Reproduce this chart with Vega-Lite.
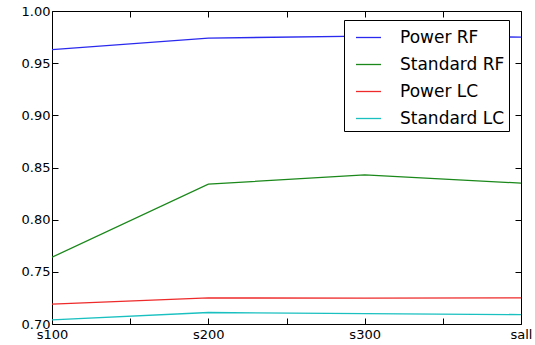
{
  "$schema": "https://vega.github.io/schema/vega-lite/v6.json",
  "width": 469,
  "height": 313,
  "autosize": {"type": "none"},
  "padding": {"left": 52, "top": 11, "right": 14, "bottom": 21},
  "background": "white",
  "config": {
    "font": "DejaVu Sans",
    "view": {"stroke": "black", "strokeWidth": 1},
    "axis": {"grid": false, "domain": false, "tickColor": "black", "labelColor": "black", "labelFont": "DejaVu Sans", "labelFontSize": 13, "title": null}
  },
  "data": {
    "values": [
      {"pos": 0, "series": "Power RF", "score": 0.963},
      {"pos": 1, "series": "Power RF", "score": 0.974},
      {"pos": 2, "series": "Power RF", "score": 0.976},
      {"pos": 3, "series": "Power RF", "score": 0.975},
      {"pos": 0, "series": "Standard RF", "score": 0.764},
      {"pos": 1, "series": "Standard RF", "score": 0.834},
      {"pos": 2, "series": "Standard RF", "score": 0.843},
      {"pos": 3, "series": "Standard RF", "score": 0.835},
      {"pos": 0, "series": "Power LC", "score": 0.719},
      {"pos": 1, "series": "Power LC", "score": 0.725},
      {"pos": 2, "series": "Power LC", "score": 0.7248},
      {"pos": 3, "series": "Power LC", "score": 0.725},
      {"pos": 0, "series": "Standard LC", "score": 0.704},
      {"pos": 1, "series": "Standard LC", "score": 0.711},
      {"pos": 2, "series": "Standard LC", "score": 0.710},
      {"pos": 3, "series": "Standard LC", "score": 0.709}
    ]
  },
  "layer": [
    {
      "mark": {"type": "line", "strokeWidth": 1.3, "clip": true},
      "encoding": {
        "x": {"field": "pos", "type": "quantitative", "scale": {"domain": [0, 3], "nice": false},
          "axis": {"orient": "bottom", "values": [0, 0.5, 1, 1.5, 2, 2.5, 3], "tickSize": -6, "labelPadding": 10, "labelFlush": false, "labelOverlap": false,
            "labelExpr": "datum.value == 0 ? 's100' : datum.value == 1 ? 's200' : datum.value == 2 ? 's300' : datum.value == 3 ? 'sall' : ''"}},
        "y": {"field": "score", "type": "quantitative", "scale": {"domain": [0.7, 1.0], "nice": false, "zero": false},
          "axis": {"orient": "left", "values": [0.7, 0.75, 0.8, 0.85, 0.9, 0.95, 1.0], "format": ".2f", "tickSize": -6, "labelPadding": 8, "labelFlush": false, "labelOverlap": false}},
        "color": {"field": "series", "type": "nominal",
          "scale": {"domain": ["Power RF", "Standard RF", "Power LC", "Standard LC"], "range": ["#2a2aee", "#1a881a", "#ee2a2a", "#1ac0c0"]},
          "legend": {"title": null, "orient": "none", "legendX": 292, "legendY": 9,
            "symbolType": "stroke", "symbolSize": 625, "symbolStrokeWidth": 1.3, "symbolOffset": 7,
            "labelFontSize": 17, "labelFont": "DejaVu Sans", "labelColor": "black", "labelOffset": 18,
            "labelExpr": "datum.label + '  '",
            "rowPadding": 5, "padding": 4, "strokeColor": "black", "fillColor": "white", "cornerRadius": 0}}
      }
    },
    {
      "mark": {"type": "point", "opacity": 0},
      "encoding": {
        "x": {"field": "pos", "type": "quantitative", "scale": {"domain": [0, 3], "nice": false},
          "axis": {"orient": "top", "values": [0, 0.5, 1, 1.5, 2, 2.5, 3], "tickSize": -6, "labels": false}},
        "y": {"field": "score", "type": "quantitative", "scale": {"domain": [0.7, 1.0], "nice": false, "zero": false},
          "axis": {"orient": "right", "values": [0.7, 0.75, 0.8, 0.85, 0.9, 0.95, 1.0], "tickSize": -6, "labels": false}}
      }
    }
  ],
  "resolve": {"axis": {"x": "independent", "y": "independent"}}
}
